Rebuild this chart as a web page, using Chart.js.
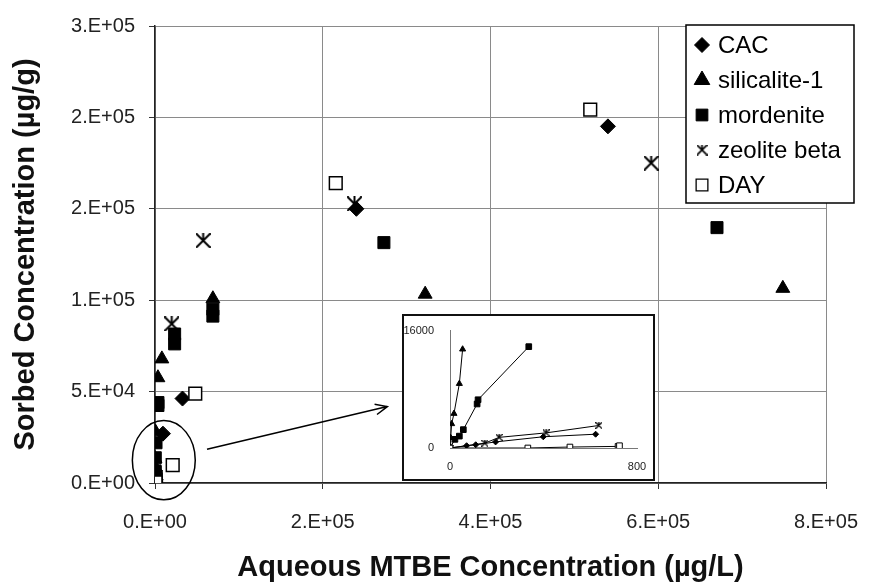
<!DOCTYPE html>
<html>
<head>
<meta charset="utf-8">
<script src="https://cdn.jsdelivr.net/npm/chart.js@4.4.0/dist/chart.umd.min.js"></script>
<style>
  html, body { margin: 0; padding: 0; background: #fff; }
  #wrap { position: relative; width: 879px; height: 582px; }
  #mainChart { position: absolute; left: 0; top: 0; }
  #insetBox { position: absolute; left: 402px; top: 314px; width: 253px; height: 167px;
    box-sizing: border-box; border: 2px solid #111; background: #fff; }
  #insetChart { display: block; }
</style>
</head>
<body>
<div id="wrap">
  <canvas id="mainChart" width="879" height="582"></canvas>
  <div id="insetBox"><canvas id="insetChart" width="249" height="163"></canvas></div>
</div>
<script>
// ===== DATA =====
const seriesNames = ['CAC', 'silicalite-1', 'mordenite', 'zeolite beta', 'DAY'];

const cacX = [0, 71, 110, 195, 399, 623, 9500, 32800, 240100, 540000];
const cacY = [0, 310, 440, 830, 1530, 1880, 27000, 46200, 150000, 195100];

const silX = [0, 3, 7, 17, 40, 54, 500, 3500, 8200, 69000, 322100, 748500];
const silY = [0, 1400, 3290, 4690, 8770, 13460, 28000, 57600, 67900, 100800, 103300, 106500];

const morX = [0, 21, 40, 57, 116, 120, 337, 1200, 3500, 3500, 23400, 23400, 69000, 69000, 272900, 670000];
const morY = [0, 1180, 1620, 2500, 6000, 6580, 13810, 22000, 44000, 42400, 81500, 76100, 95100, 91300, 131500, 139700];

const zeoX = [0, 149, 210, 411, 637, 19900, 57400, 237800, 591500];
const zeoY = [0, 660, 1450, 2060, 3070, 87000, 132600, 152700, 175000];

const dayX = [0, 333, 513, 719, 725, 21100, 48000, 215500, 518900];
const dayY = [0, 0, 130, 220, 310, 9800, 48900, 164100, 204300];

const xTickLabels = ['0.E+00', '2.E+05', '4.E+05', '6.E+05', '8.E+05'];
const yTickLabels = ['0.E+00', '5.E+04', '1.E+05', '2.E+05', '2.E+05', '3.E+05'];
const insetXTickLabels = ['0', '800'];
const insetYTickLabels = ['0', '16000'];

const insetXMax = 800;
const insetYMax = 16000;

// annotation: ellipse round the origin cluster and arrow to the inset (data units)
const ellipseCenter = { x: 10500, y: 12500 };
const ellipseRadius = { x: 37500, y: 21700 };
const arrowFrom = { x: 62000, y: 18500 };
const arrowTo = { x: 277000, y: 41800 };

// ===== STYLE =====
const FONT = 'Liberation Sans, Arial, Helvetica, sans-serif';

// Excel-like star marker: an X with a short upright stroke on top
function asterisk(size, lw) {
  const c = document.createElement('canvas');
  c.width = size; c.height = size;
  const g = c.getContext('2d');
  const m = size / 2, r = size / 2 - lw / 2;
  g.strokeStyle = '#000';
  g.lineWidth = lw;
  g.lineCap = 'square';
  g.beginPath();
  g.moveTo(m, m - r); g.lineTo(m, m);
  g.moveTo(m - r, m - r); g.lineTo(m + r, m + r);
  g.moveTo(m + r, m - r); g.lineTo(m - r, m + r);
  g.stroke();
  return c;
}

const mainStyles = [
  { pointStyle: 'rectRot', pointRadius: 7.5, backgroundColor: '#000', borderColor: '#000', borderWidth: 1 },
  { pointStyle: 'triangle', pointRadius: 8, backgroundColor: '#000', borderColor: '#000', borderWidth: 1 },
  { pointStyle: 'rect', pointRadius: 8.5, backgroundColor: '#000', borderColor: '#000', borderWidth: 1 },
  { pointStyle: asterisk(15, 2), pointRadius: 8, backgroundColor: '#000', borderColor: '#000', borderWidth: 1 },
  { pointStyle: 'rect', pointRadius: 9, backgroundColor: '#fff', borderColor: '#000', borderWidth: 1.5 }
];
const legendStyles = [
  { pointStyle: 'rectRot', radius: 7.5, fill: '#000', lw: 1 },
  { pointStyle: 'triangle', radius: 9, fill: '#000', lw: 1 },
  { pointStyle: 'rect', radius: 8.3, fill: '#000', lw: 1 },
  { pointStyle: asterisk(11, 1.7), radius: 6, fill: '#000', lw: 1 },
  { pointStyle: 'rect', radius: 8.3, fill: '#fff', lw: 1.3 }
];
const insetStyles = [
  { pointStyle: 'rectRot', pointRadius: 3 },
  { pointStyle: 'triangle', pointRadius: 3.5 },
  { pointStyle: 'rect', pointRadius: 4 },
  { pointStyle: asterisk(7, 1.3), pointRadius: 3.5 },
  { pointStyle: 'rect', pointRadius: 4, fill: '#fff' }
];

const allX = [cacX, silX, morX, zeoX, dayX];
const allY = [cacY, silY, morY, zeoY, dayY];

function points(xs, ys) {
  return xs.map((x, i) => ({ x: x, y: ys[i] }));
}

// ===== OVERLAY: ellipse, arrow and legend =====
const overlay = {
  id: 'overlay',
  afterDraw(chart) {
    const ctx = chart.ctx;
    const xs = chart.scales.x, ys = chart.scales.y;
    ctx.save();
    ctx.strokeStyle = '#000';
    ctx.lineWidth = 1.5;

    const cx = xs.getPixelForValue(ellipseCenter.x);
    const cy = ys.getPixelForValue(ellipseCenter.y);
    const rx = xs.getPixelForValue(ellipseCenter.x + ellipseRadius.x) - cx;
    const ry = cy - ys.getPixelForValue(ellipseCenter.y + ellipseRadius.y);
    ctx.beginPath();
    ctx.ellipse(cx, cy, rx, ry, 0, 0, Math.PI * 2);
    ctx.stroke();

    const ax = xs.getPixelForValue(arrowFrom.x), ay = ys.getPixelForValue(arrowFrom.y);
    const bx = xs.getPixelForValue(arrowTo.x), by = ys.getPixelForValue(arrowTo.y);
    ctx.beginPath();
    ctx.moveTo(ax, ay); ctx.lineTo(bx, by);
    const ang = Math.atan2(by - ay, bx - ax);
    const head = 13, spread = 0.42;
    ctx.moveTo(bx - head * Math.cos(ang - spread), by - head * Math.sin(ang - spread));
    ctx.lineTo(bx, by);
    ctx.lineTo(bx - head * Math.cos(ang + spread), by - head * Math.sin(ang + spread));
    ctx.stroke();

    // legend box
    const lx = 686, ly = 25, lw = 168, lh = 178;
    ctx.fillStyle = '#fff';
    ctx.fillRect(lx, ly, lw, lh);
    ctx.lineWidth = 1.5;
    ctx.strokeRect(lx, ly, lw, lh);
    ctx.font = '24px ' + FONT;
    ctx.textBaseline = 'middle';
    ctx.textAlign = 'left';
    seriesNames.forEach((name, i) => {
      const y = ly + 20 + i * 35;
      const st = legendStyles[i];
      ctx.fillStyle = st.fill;
      ctx.strokeStyle = '#000';
      ctx.lineWidth = st.lw;
      Chart.helpers.drawPoint(ctx, { pointStyle: st.pointStyle, radius: st.radius, borderWidth: st.lw, rotation: 0 }, lx + 16, y);
      ctx.fillStyle = '#000';
      ctx.fillText(name, lx + 32, y + 1);
    });
    ctx.restore();
  }
};

// ===== MAIN CHART =====
new Chart(document.getElementById('mainChart'), {
  type: 'scatter',
  data: {
    datasets: seriesNames.map((name, i) => ({
      label: name,
      data: points(allX[i], allY[i]),
      showLine: false,
      pointStyle: mainStyles[i].pointStyle,
      pointRadius: mainStyles[i].pointRadius,
      pointBackgroundColor: mainStyles[i].backgroundColor,
      pointBorderColor: mainStyles[i].borderColor,
      pointBorderWidth: mainStyles[i].borderWidth
    })).reverse()
  },
  options: {
    responsive: false,
    animation: false,
    layout: { padding: { top: 23, right: 41, left: 0, bottom: 0 } },
    plugins: { legend: { display: false }, tooltip: { enabled: false } },
    scales: {
      x: {
        type: 'linear', min: 0, max: 800000,
        ticks: {
          stepSize: 200000, padding: 21, color: '#222',
          font: { family: FONT, size: 20 },
          callback: (v, i) => xTickLabels[i]
        },
        grid: { color: '#8a8a8a', lineWidth: 1, tickLength: 6, tickColor: '#333' },
        border: { color: '#222', width: 1.5 },
        title: {
          display: true, text: 'Aqueous MTBE Concentration (µg/L)', color: '#111',
          font: { family: FONT, size: 29, weight: 'bold', lineHeight: 1 },
          padding: { top: 0, bottom: 0 }
        },
        afterFit: s => { s.height = 99; }
      },
      y: {
        type: 'linear', min: 0, max: 250000,
        ticks: {
          stepSize: 50000, padding: 14, color: '#222',
          font: { family: FONT, size: 20 },
          callback: (v, i) => yTickLabels[i]
        },
        grid: { color: '#8a8a8a', lineWidth: 1, tickLength: 6, tickColor: '#333' },
        border: { color: '#222', width: 1.5 },
        title: {
          display: true, text: 'Sorbed Concentration (µg/g)', color: '#111',
          font: { family: FONT, size: 29, weight: 'bold', lineHeight: 1 },
          padding: { top: 11, bottom: 0 }
        },
        afterFit: s => { s.width = 155; }
      }
    }
  },
  plugins: [overlay]
});

// ===== INSET CHART (low-concentration region) =====
new Chart(document.getElementById('insetChart'), {
  type: 'scatter',
  data: {
    datasets: seriesNames.map((name, i) => ({
      label: name,
      data: points(allX[i], allY[i]).filter(p => p.x <= insetXMax && p.y <= insetYMax),
      showLine: true,
      borderColor: '#000',
      borderWidth: 1,
      pointStyle: insetStyles[i].pointStyle,
      pointRadius: insetStyles[i].pointRadius,
      pointBackgroundColor: insetStyles[i].fill || '#000',
      pointBorderColor: '#000',
      pointBorderWidth: 1
    })).reverse()
  },
  options: {
    responsive: false,
    animation: false,
    layout: { padding: { top: 11, right: 16, left: 0, bottom: 0 } },
    plugins: { legend: { display: false }, tooltip: { enabled: false } },
    scales: {
      x: {
        type: 'linear', min: 0, max: insetXMax,
        ticks: {
          stepSize: insetXMax, padding: 4, color: '#222',
          font: { family: FONT, size: 11 },
          callback: (v, i) => insetXTickLabels[i]
        },
        grid: { display: false },
        border: { color: '#777', width: 1 },
        afterFit: s => { s.height = 31; }
      },
      y: {
        type: 'linear', min: 0, max: insetYMax,
        ticks: {
          stepSize: insetYMax, padding: 8, color: '#222',
          font: { family: FONT, size: 11 },
          callback: (v, i) => insetYTickLabels[i]
        },
        grid: { display: false },
        border: { color: '#777', width: 1 },
        afterFit: s => { s.width = 46; }
      }
    }
  }
});
</script>
</body>
</html>
